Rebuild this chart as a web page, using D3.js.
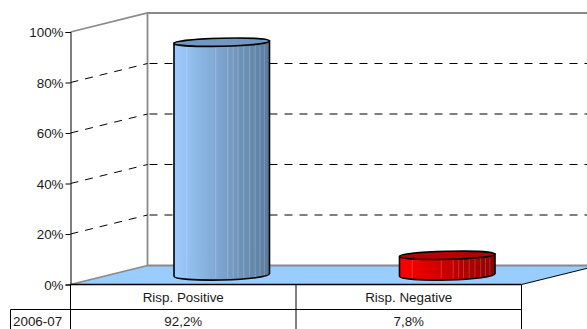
<!DOCTYPE html>
<html><head><meta charset="utf-8">
<script src="https://cdn.jsdelivr.net/npm/d3@7"></script>
<style>html,body{margin:0;padding:0;background:#fff}svg{display:block}text{font-family:"Liberation Sans",Arial,sans-serif;font-size:13.4px;fill:#1a1a1a}</style>
</head><body><svg id="c" width="587" height="329"></svg>
<script>
const categories=["Risp. Positive","Risp. Negative"];
const rowLabels=["2006-07"];
const valueLabels=["92,2%","7,8%"];
const values=[92.2,7.8];
const tickValues=[0,20,40,60,80,100];
const fills=[["#9dcdff","#5a7a9c","#6f98c2"],["#ff0000","#8f0000","#b80000"]];
const seams=[.133,.437,.562,.62,.67,.73,.79,.85,.90,.946];

const W=587,H=329,dx=77,dy=-19;
const svg=d3.select("#c");
const y=d3.scaleLinear().domain([0,100]).range([284.5,32]);
const x=d3.scaleBand().domain(categories).range([70.5,521.5]);
const defs=svg.append("defs");
fills.forEach((f,i)=>{
  const g=defs.append("linearGradient").attr("id","g"+i);
  g.append("stop").attr("offset",0).attr("stop-color",f[0]);
  g.append("stop").attr("offset",1).attr("stop-color",f[1]);
});
const gray="#8a8a8a";
const x0=x.range()[0],x1=x.range()[1],bx=x0+dx;
const edgeY=y(0)+(W-x1)*dy/dx;
// floor
svg.append("path").attr("d",`M${x0},${y(0)}L${bx},${y(0)+dy}L${W},${y(0)+dy}L${W},${edgeY}L${x1},${y(0)}Z`).attr("fill","#99ccff");
// walls
svg.append("path").attr("d",`M${x0},${y(100)}L${bx},${y(100)+dy}H${W}M${bx},${y(100)+dy}V${y(0)+dy}H${W}M${x0},${y(0)}L${bx},${y(0)+dy}`).attr("fill","none").attr("stroke",gray).attr("stroke-width",1.8);
// gridlines
tickValues.filter(t=>t>0&&t<100).forEach(t=>{
  svg.append("line").attr("x1",x0).attr("x2",bx).attr("y1",y(t)).attr("y2",y(t)+dy).attr("stroke","#000").attr("stroke-dasharray","8 7");
  svg.append("line").attr("x1",bx).attr("x2",W).attr("y1",y(t)+dy).attr("y2",y(t)+dy).attr("stroke","#000").attr("stroke-dasharray","8 7").attr("stroke-dashoffset",-2);
});
// floor front right edge
svg.append("line").attr("x1",x1).attr("y1",y(0)).attr("x2",W).attr("y2",edgeY).attr("stroke","#000");
// cylinders
const cw=95.5,ry=4,tilt=-1.2,rot=Math.atan(tilt*2/cw)*180/Math.PI;
categories.forEach((c,i)=>{
  const cx=x(c)+x.bandwidth()/2+dx/2, l=cx-cw/2, r=cx+cw/2;
  const y0=y(0)-9.5, y1=y(values[i])-9.5;
  const g=svg.append("g");
  const side=`M${l},${y1-tilt}L${l},${y0-tilt}A${cw/2},${ry+1} ${rot} 0 0 ${r},${y0+tilt}L${r},${y1+tilt}Z`;
  g.append("path").attr("d",side).attr("fill",`url(#g${i})`);
  seams.forEach(s=>g.append("line").attr("x1",l+s*cw).attr("x2",l+s*cw).attr("y1",y1+ry-1).attr("y2",y0+ry-1).attr("stroke","#fff").attr("stroke-opacity",.2));
  g.append("path").attr("d",side).attr("fill","none").attr("stroke","#000").attr("stroke-width",1.6);
  g.append("ellipse").attr("cx",cx).attr("cy",y1).attr("rx",cw/2).attr("ry",ry).attr("transform",`rotate(${rot} ${cx} ${y1})`).attr("fill",fills[i][2]).attr("stroke","#000").attr("stroke-width",1.6);
});
// value axis
const ax=svg.append("g").attr("transform",`translate(${x0},0)`).call(d3.axisLeft(y).tickValues(tickValues).tickFormat(d=>d+"%").tickSize(5).tickPadding(0));
ax.select(".domain").attr("stroke","#000");
ax.selectAll("text").attr("x",-7).attr("dy","0.36em");
ax.selectAll("line").attr("stroke","#000");
// data table
const rowY=[y(0),309.5];
const t=svg.append("g").attr("fill","none").attr("stroke","#000");
t.append("path").attr("d",`M${x0},${rowY[0]}H${x1}`).attr("stroke-width",1.4);
t.append("path").attr("d",`M${x1},${rowY[0]}V${H}M${x0},${rowY[0]}V${H}M10.5,${rowY[1]}H${x1}M10.5,${rowY[1]}V${H}`);
categories.forEach((c,i)=>{
  if(i>0)svg.append("line").attr("x1",x(c)).attr("x2",x(c)).attr("y1",rowY[0]).attr("y2",H).attr("stroke","#000");
  svg.append("text").attr("x",x(c)+x.bandwidth()/2).attr("y",301.5).attr("text-anchor","middle").text(c);
  svg.append("text").attr("x",x(c)+x.bandwidth()/2).attr("y",325.5).attr("text-anchor","middle").text(valueLabels[i]);
});
svg.append("text").attr("x",13).attr("y",326).text(rowLabels[0]);
</script></body></html>
